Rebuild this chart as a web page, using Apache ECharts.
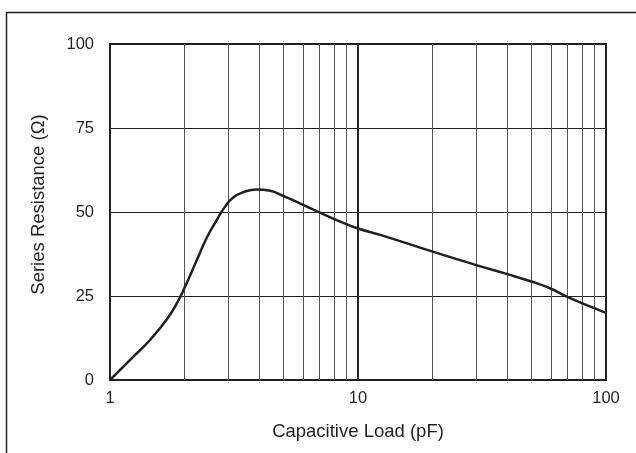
<!DOCTYPE html>
<html><head><meta charset="utf-8">
<script src="https://cdn.jsdelivr.net/npm/echarts@6/dist/echarts.min.js"></script>
<style>html,body{margin:0;padding:0;background:#fff}#c{width:636px;height:453px}</style>
</head><body><div id="c"></div>
<script>
const capLoad = [1, 1.24, 1.45, 1.69, 1.86, 2.0, 2.24, 2.45, 2.69, 2.91, 3.14, 3.45, 3.9, 4.42, 4.99, 5.83, 7.03, 8.2, 10, 12.3, 20, 30, 40, 50, 59.5, 70.5, 100];
const resistance = [0, 6.9, 11.9, 17.9, 22.8, 27.5, 35.7, 42.2, 47.5, 51.6, 54.3, 55.9, 56.7, 56.3, 54.8, 52.6, 49.8, 47.6, 45.1, 43.2, 38.2, 34.2, 31.5, 29.3, 27.3, 24.6, 20.0];
const xTicks = [1, 10, 100];
const yTicks = [0, 25, 50, 75, 100];
const minorX = [2,3,4,5,6,7,8,9,20,30,40,50,60,70,80,90];
const majorX = [10];

const ink = '#231f20';
const chart = echarts.init(document.getElementById('c'), null, {renderer:'canvas'});
chart.setOption({
  animation:false,
  textStyle:{fontFamily:'Liberation Sans, Arial, sans-serif'},
  graphic:[{type:'rect', shape:{x:6.5,y:12.5,width:700,height:500}, style:{fill:'none', stroke:ink, lineWidth:1.5}, z:-1}],
  grid:{left:110, right:30, top:44, bottom:73, show:true, borderColor:ink, borderWidth:2, backgroundColor:'transparent'},
  xAxis:{type:'log', logBase:10, min:1, max:100,
    name:'Capacitive Load (pF)', nameLocation:'middle', nameGap:42,
    nameTextStyle:{fontSize:18.5, color:ink},
    axisLine:{show:true, lineStyle:{color:ink, width:2}},
    axisTick:{show:false},
    axisLabel:{fontSize:16.5, color:ink, margin:10},
    splitLine:{show:false}},
  yAxis:{type:'value', min:0, max:100, interval:25,
    name:'Series Resistance (Ω)', nameLocation:'middle', nameGap:62, nameRotate:90,
    nameTextStyle:{fontSize:18.5, color:ink, padding:[0,0,0,15]},
    axisLine:{show:true, lineStyle:{color:ink, width:2}},
    axisTick:{show:false},
    axisLabel:{fontSize:16.5, color:ink, margin:16},
    splitLine:{show:true, lineStyle:{color:ink, width:1}}},
  series:[
    {type:'line', data:capLoad.map((x,i)=>[x,resistance[i]]), smooth:0.5, showSymbol:false,
     lineStyle:{color:ink, width:2.5}, z:5,
     markLine:{silent:true, symbol:'none', label:{show:false},
       data:[
         ...minorX.map(v=>({xAxis:v, lineStyle:{color:'#555', width:1, type:'solid'}})),
         ...majorX.map(v=>({xAxis:v, lineStyle:{color:ink, width:2, type:'solid'}}))
       ]}}
  ]
});
</script></body></html>
